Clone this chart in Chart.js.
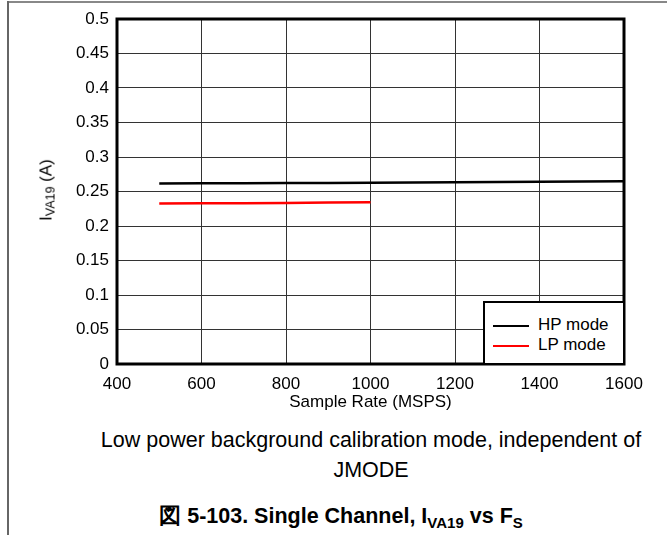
<!DOCTYPE html>
<html>
<head>
<meta charset="utf-8">
<script src="https://cdn.jsdelivr.net/npm/chart.js@4"></script>
<style>
body { margin: 0; background: #fff; font-family: "Liberation Sans", Arial, sans-serif; }
#wrap { position: relative; width: 667px; height: 535px; overflow: hidden; }
#grafico { position: absolute; left: 0; top: 0; }
.frameTop { position: absolute; left: 8px; top: 1px; width: 659px; height: 2px; background: #888; }
.frameLeft { position: absolute; left: 7px; top: 1px; width: 2px; height: 534px; background: #666; }
#ytitle { position: absolute; left: 47px; top: 190px; transform: translate(-50%, -50%) rotate(-90deg); font-size: 17px; white-space: nowrap; color: #000; }
#ytitle sub { font-size: 12.5px; vertical-align: -3px; }
#leyenda { position: absolute; left: 483px; top: 301px; width: 138px; height: 60px; border: 2px solid #000; background: #fff; font-size: 17px; }
.item { position: absolute; left: 8px; height: 20px; line-height: 20px; }
.item span.l { display: inline-block; width: 36px; height: 2px; vertical-align: middle; margin-right: 9px; }
.cap { position: absolute; left: 0; width: 742px; text-align: center; font-size: 21.5px; color: #000; }
.fig { position: absolute; left: 0; width: 682px; text-align: center; font-size: 21.5px; font-weight: bold; top: 501px; }
.fig sub { font-size: 15px; vertical-align: -5px; }
</style>
</head>
<body>
<div id="wrap">
  <div class="frameTop"></div>
  <div class="frameLeft"></div>
  <canvas id="grafico" width="667" height="415"></canvas>
  <div id="ytitle">I<sub>VA19</sub> (A)</div>
  <div id="leyenda"></div>
  <div class="cap" style="top:428px">Low power background calibration mode, independent of</div>
  <div class="cap" style="top:458px">JMODE</div>
  <div class="fig">図 5-103. Single Channel, I<sub>VA19</sub> vs F<sub>S</sub></div>
</div>
<script>
// datos
const fs_hp = [500, 600, 700, 800, 900, 1000, 1100, 1200, 1300, 1400, 1500, 1600];
const i_hp = [0.2615, 0.2618, 0.262, 0.2622, 0.2624, 0.2626, 0.2629, 0.2633, 0.2637, 0.2641, 0.2645, 0.2648];
const fs_lp = [500, 600, 700, 800, 900, 1000];
const i_lp = [0.2325, 0.2328, 0.2331, 0.2335, 0.2339, 0.2344];
const etiquetas = ['HP mode', 'LP mode'];
const colores = ['#000000', '#ff0000'];
const xMin = 400, xMax = 1600, xPaso = 100;
const yMin = 0, yMax = 0.5, yPaso = 0.05;

const fuente = { family: '"Liberation Sans", Arial, sans-serif', size: 17 };

// borde grueso alrededor del area del grafico
const marco = {
    id: 'marco',
    afterDatasetsDraw(chart) {
        const a = chart.chartArea;
        const c = chart.ctx;
        c.save();
        c.strokeStyle = '#000';
        c.lineWidth = 3;
        c.strokeRect(a.left, a.top, a.right - a.left, a.bottom - a.top);
        c.restore();
    }
};

const ctx = document.getElementById('grafico').getContext('2d');
const grafico = new Chart(ctx, {
    type: 'line',
    data: {
        datasets: [
            { label: etiquetas[0], data: fs_hp.map((x, i) => ({ x: x, y: i_hp[i] })), borderColor: colores[0], borderWidth: 2.5, pointRadius: 0, tension: 0 },
            { label: etiquetas[1], data: fs_lp.map((x, i) => ({ x: x, y: i_lp[i] })), borderColor: colores[1], borderWidth: 2.5, pointRadius: 0, tension: 0 }
        ]
    },
    options: {
        responsive: false,
        animation: false,
        layout: { padding: { left: 0, right: 43, top: 19, bottom: 0 } },
        plugins: { legend: { display: false }, tooltip: { enabled: false } },
        scales: {
            x: {
                type: 'linear',
                min: xMin, max: xMax,
                afterFit(s) { s.height = 51; },
                border: { display: false },
                grid: { color: '#333', lineWidth: 1, drawTicks: false },
                ticks: {
                    stepSize: xPaso, autoSkip: false, maxRotation: 0, padding: 10,
                    color: '#000', font: fuente,
                    callback: v => (v % 200 === 0 ? String(v) : null)
                },
                title: { display: true, text: 'Sample Rate (MSPS)', color: '#000', font: fuente, padding: { top: 0, bottom: 2 } }
            },
            y: {
                min: yMin, max: yMax,
                afterFit(s) { s.width = 117; },
                border: { display: false },
                grid: { color: '#333', lineWidth: 1, drawTicks: false },
                ticks: {
                    stepSize: yPaso, autoSkip: false, padding: 8,
                    color: '#000', font: fuente,
                    callback: v => String(parseFloat(v.toFixed(2)))
                }
            }
        }
    },
    plugins: [marco]
});

// leyenda dentro del area del grafico
const leyenda = document.getElementById('leyenda');
etiquetas.forEach((t, i) => {
    const d = document.createElement('div');
    d.className = 'item';
    d.style.top = (12 + i * 20) + 'px';
    d.innerHTML = '<span class="l" style="background:' + colores[i] + '"></span>' + t;
    leyenda.appendChild(d);
});
</script>
</body>
</html>
